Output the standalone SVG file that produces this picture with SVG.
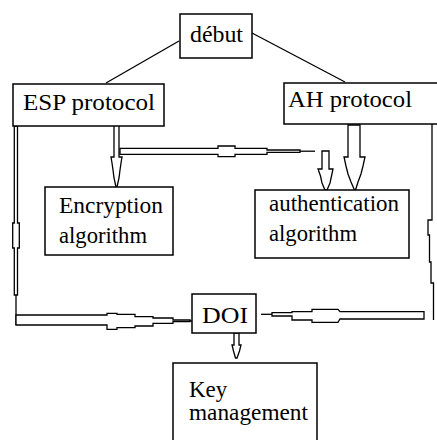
<svg xmlns="http://www.w3.org/2000/svg" width="437" height="440" viewBox="0 0 437 440">
<style>
.box{fill:#fff;stroke:#000;stroke-width:1.5}
.t{font-family:"Liberation Serif","Times New Roman",serif;font-size:24px;fill:#000}
.s{font-size:23px}
.c{fill:#fff;stroke:#000;stroke-width:1.3;stroke-linejoin:miter}
.l{fill:none;stroke:#000;stroke-width:1.3}
</style>
<rect width="437" height="440" fill="#fff"/>
<g id="connectors">
  <line class="l" x1="179" y1="41" x2="106" y2="83"/>
  <line class="l" x1="252" y1="33" x2="345" y2="82"/>
  <!-- ESP to Encryption -->
  <polygon class="c" points="114,123 119,123 119,157 122,157 121,163 120,170 119,178 117,187 116,187 114,178 113,170 112,163 111,157 114,157"/>
  <!-- horizontal connector to authentication -->
  <polygon class="c" points="120,148.3 218,148.3 218,146 235,146 235,148.3 267,148.3 267,150 300,150 300,152.3 267,152.3 267,154.3 235,154.3 235,156.7 218,156.7 218,154.3 120,154.3"/>
  <line class="l" x1="300" y1="151.2" x2="315" y2="151.2"/>
  <!-- small arrow to authentication -->
  <polygon class="c" points="322,151 329,151 329,169 333,169 331.5,176 330,183 327,190 325,190 322,183 320.5,176 318,169 322,169"/>
  <!-- AH to authentication -->
  <polygon class="c" points="348,125 360,125 360,157 365,157 363,166 361,174 358,182 355.5,190 354.5,190 351,182 348,174 346,166 344,157 348,157"/>
  <!-- left side ESP to DOI -->
  <polygon class="c" points="14.3,126 17.5,126 17.5,223 19.3,223 19.3,248 17.5,248 17.5,295 14.3,295 14.3,248 12.7,248 12.7,223 14.3,223"/>
  <line class="l" x1="16" y1="295" x2="16" y2="325"/>
  <polygon class="c" points="16,315 107,315 107,313.3 117,313.3 117,314.3 135,314.3 135,316.7 153,316.7 153,318 173,318 173,320 190,320 190,321.7 173,321.7 173,323.3 153,323.3 153,326 135,326 135,327.7 117,327.7 117,329.3 107,329.3 107,325 16,325"/>
  <line class="l" x1="189" y1="321" x2="200" y2="321"/>
  <!-- right side AH to DOI -->
  <polyline class="l" points="432,124 432,220 428,220 428,235 429.5,235 429.5,262 431,262 431,283 433.5,283 433.5,320"/>
  <polygon class="c" points="424,311.7 340,311.7 338,309.3 312,309.3 312,311.7 292,311.7 292,312.7 272,312.7 272,316 292,316 292,320 312,320 312,322.3 338,322.3 340,319 424,319"/>
  <line class="l" x1="261" y1="314.3" x2="272" y2="314.3"/>
  <!-- DOI to Key management -->
  <polygon class="c" points="234,333 239,333 239,345 241,345 239.5,351 237,358 235.5,358 233.5,351 232,345 234,345"/>
</g>
<g id="debut">
  <rect class="box" x="180" y="14" width="72" height="44"/>
  <text class="t" x="190" y="42" textLength="53" lengthAdjust="spacingAndGlyphs">début</text>
</g>
<g id="esp">
  <rect class="box" x="13" y="84" width="151" height="42"/>
  <text class="t" x="23" y="110" textLength="132" lengthAdjust="spacingAndGlyphs">ESP protocol</text>
</g>
<g id="ah">
  <rect class="box" x="284" y="83" width="160" height="41"/>
  <text class="t" x="288" y="107" textLength="124" lengthAdjust="spacingAndGlyphs">AH protocol</text>
</g>
<g id="encryption">
  <rect class="box" x="45" y="187" width="128" height="68"/>
  <text class="t s" x="59" y="213" textLength="104" lengthAdjust="spacingAndGlyphs">Encryption</text>
  <text class="t s" x="59" y="243" textLength="88" lengthAdjust="spacingAndGlyphs">algorithm</text>
</g>
<g id="authentication">
  <rect class="box" x="255" y="190" width="154" height="68"/>
  <text class="t s" x="269" y="211" textLength="130" lengthAdjust="spacingAndGlyphs">authentication</text>
  <text class="t s" x="269" y="241" textLength="88" lengthAdjust="spacingAndGlyphs">algorithm</text>
</g>
<g id="doi">
  <rect class="box" x="192" y="294" width="64" height="39"/>
  <text class="t" x="202" y="323" textLength="46" lengthAdjust="spacingAndGlyphs">DOI</text>
</g>
<g id="key">
  <rect class="box" x="173" y="363" width="144" height="90"/>
  <text class="t s" x="189" y="397">Key</text>
  <text class="t s" x="189" y="420" textLength="119" lengthAdjust="spacingAndGlyphs">management</text>
</g>
</svg>
